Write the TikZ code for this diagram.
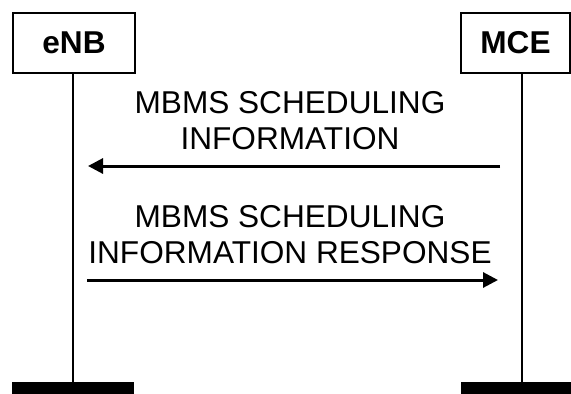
\documentclass[tikz,border=0pt]{standalone}
\usepackage{fontspec}
\setmainfont{Liberation Sans}
\usetikzlibrary{arrows.meta,positioning}
\tikzset{
    %Define style for the entity boxes
    entity/.style={
           rectangle,
           draw=black, line width=2pt,
           minimum height=60pt,
           inner sep=0pt,
           font=\fontsize{31.6}{36}\selectfont\bfseries},
    %Define style for the bottom bars
    endbar/.style={
           rectangle,
           fill=black,
           inner sep=0pt,
           minimum height=12pt},
    % Define lifeline style
    life/.style={
           line width=2pt},
    % Define message arrow style
    msg/.style={
           -{Triangle[length=15pt,width=15pt]},
           line width=3pt},
    % Define message label style
    msgtext/.style={
           anchor=south,
           inner sep=0pt,
           text depth=0pt,
           align=center,
           font=\fontsize{31.6}{36}\selectfont}
}
\begin{document}
\begin{tikzpicture}[x=1pt, y=-1pt]
		\useasboundingbox (0,0) rectangle (571,394);
		\node[entity, minimum width=122pt] (enb) at (74,43) {eNB};
		\node[entity, minimum width=109pt] (mce) at (515.5,43) {MCE};
		\node[endbar, minimum width=122pt] (enbbar) at (73,388) {};
		\node[endbar, minimum width=110pt] (mcebar) at (516,388) {};
		\coordinate (mceend) at (522,382);
		\draw[life] (enb.south -| enbbar.north) -- (enbbar.north);
		\draw[life] (mce.south -| mceend) -- (mceend);
		% messages
		\coordinate (mceA) at (500,166);
		\coordinate (enbA) at (88,166);
		\coordinate (enbB) at (87,280);
		\coordinate (mceB) at (498,280);
		\node[msgtext] (info) at (290,150) {MBMS SCHEDULING\\INFORMATION};
		\node[msgtext] (resp) at (290,264) {MBMS SCHEDULING\\INFORMATION RESPONSE};
		\draw[msg] (mceA) -- (enbA);
		\draw[msg] (enbB) -- (mceB);
	\end{tikzpicture}
\end{document}
